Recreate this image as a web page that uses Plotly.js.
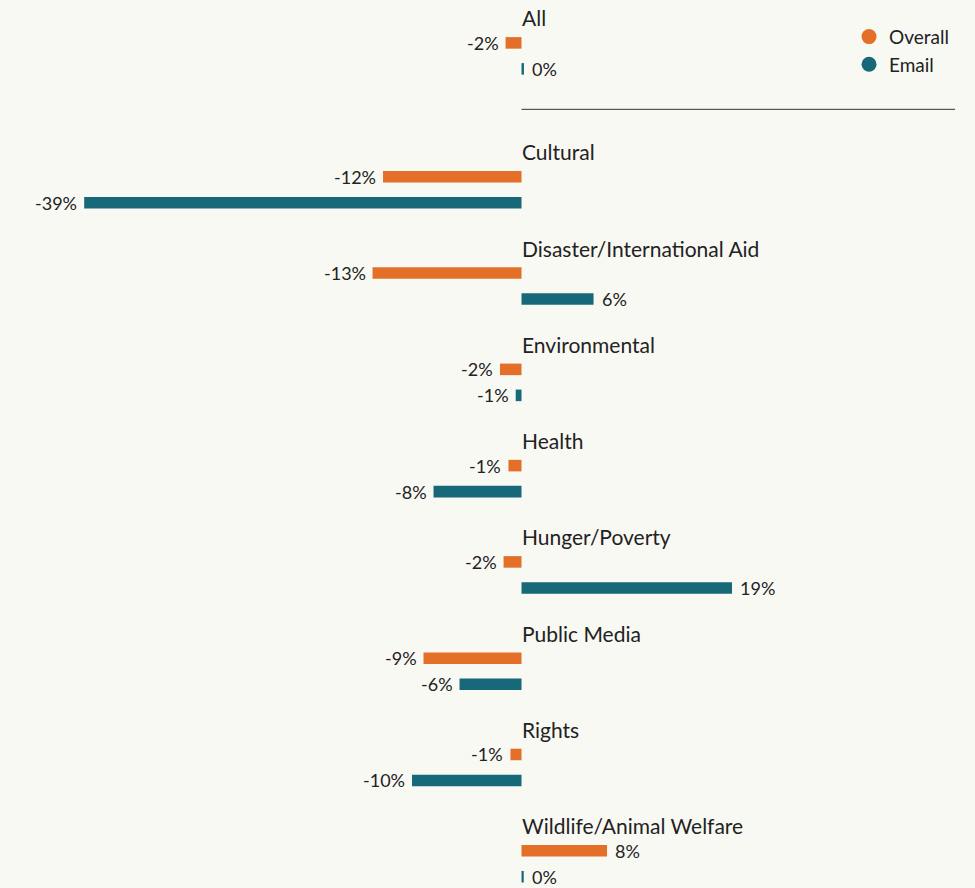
<!DOCTYPE html>
<html>
<head>
<meta charset="utf-8">
<script src="https://cdn.plot.ly/plotly-3.0.1.min.js"></script>
<style>
  html, body { margin: 0; padding: 0; background: #f9f9f4; }
  #chart { width: 975px; height: 888px; }
</style>
</head>
<body>
<div id="chart"></div>
<script>
// ---- data ----
const categories = ["All", "Cultural", "Disaster/International Aid", "Environmental", "Health",
  "Hunger/Poverty", "Public Media", "Rights", "Wildlife/Animal Welfare"];
// estimated underlying values (% change)
const overallValues = [-1.43, -12.42, -13.36, -1.93, -1.17, -1.61, -8.79, -0.99, 7.67];
const emailValues   = [0.22, -39.22, 6.46, -0.52, -7.89, 18.88, -5.56, -9.82, 0.2];
// labels as printed on the chart
const overallLabels = ["-2%", "-12%", "-13%", "-2%", "-1%", "-2%", "-9%", "-1%", "8%"];
const emailLabels   = ["0%", "-39%", "6%", "-1%", "-8%", "19%", "-6%", "-10%", "0%"];
const seriesNames = ["Overall", "Email"];
const seriesColors = ["#e46f29", "#176879"];

// ---- layout helpers ----
const GAP_AFTER_FIRST = 0.391;       // extra space after "All"
const EMAIL_OFFSET = 0.27;           // email bar below overall bar
const BAR_W = 0.12;
const pos = categories.map((c, i) => i + (i > 0 ? GAP_AFTER_FIRST : 0));
const emailPos = pos.map(p => p + EMAIL_OFFSET);

const FONT = "Lato, 'Open Sans', sans-serif";
const TEXT_COLOR = "#222222";

const traces = [
  {
    type: "bar", orientation: "h", name: seriesNames[0],
    x: overallValues, y: pos, width: BAR_W,
    marker: { color: seriesColors[0] },
    showlegend: false, hoverinfo: "skip"
  },
  {
    type: "bar", orientation: "h", name: seriesNames[1],
    x: emailValues, y: emailPos, width: BAR_W,
    marker: { color: seriesColors[1] },
    showlegend: false, hoverinfo: "skip"
  },
  // legend entries with circle markers
  {
    type: "scatter", mode: "markers", name: seriesNames[0], x: [null], y: [null],
    marker: { color: seriesColors[0], size: 15, symbol: "circle" }, showlegend: true
  },
  {
    type: "scatter", mode: "markers", name: seriesNames[1], x: [null], y: [null],
    marker: { color: seriesColors[1], size: 15, symbol: "circle" }, showlegend: true
  }
];

const catAnnotations = categories.map((c, i) => ({
  x: 0, y: pos[i], xref: "x", yref: "y",
  text: c, showarrow: false, xanchor: "left", yanchor: "middle",
  yshift: 25, xshift: -2,
  font: { family: FONT, size: 21, color: TEXT_COLOR }
}));

function valueAnn(v, yv, label) {
  const neg = v < 0;
  return {
    x: v, y: yv, xref: "x", yref: "y",
    text: label, showarrow: false,
    xanchor: neg ? "right" : "left", yanchor: "middle",
    xshift: neg ? -5 : 6,
    font: { family: FONT, size: 18, color: TEXT_COLOR }
  };
}
const valAnnotations = []
  .concat(overallValues.map((v, i) => valueAnn(v, pos[i], overallLabels[i])))
  .concat(emailValues.map((v, i) => valueAnn(v, emailPos[i], emailLabels[i])));

const layout = {
  width: 975, height: 888,
  margin: { l: 0, r: 0, t: 0, b: 0 },
  paper_bgcolor: "#f9f9f4", plot_bgcolor: "#f9f9f4",
  barmode: "overlay",
  showlegend: true,
  legend: {
    x: 0.8708, xanchor: "left", y: 0.98, yanchor: "top",
    font: { family: FONT, size: 19, color: TEXT_COLOR },
    bgcolor: "rgba(0,0,0,0)", tracegroupgap: 0
  },
  xaxis: {
    range: [-46.77, 40.67], visible: false, fixedrange: true
  },
  yaxis: {
    range: [8.778, -0.4455], visible: false, fixedrange: true
  },
  annotations: catAnnotations.concat(valAnnotations),
  shapes: [{
    type: "line", xref: "x", yref: "y",
    x0: 0, x1: 38.88, y0: 0.69, y1: 0.69,
    line: { color: "#333333", width: 1 }
  }]
};

Plotly.newPlot("chart", traces, layout, { displayModeBar: false, staticPlot: true });
</script>
</body>
</html>
